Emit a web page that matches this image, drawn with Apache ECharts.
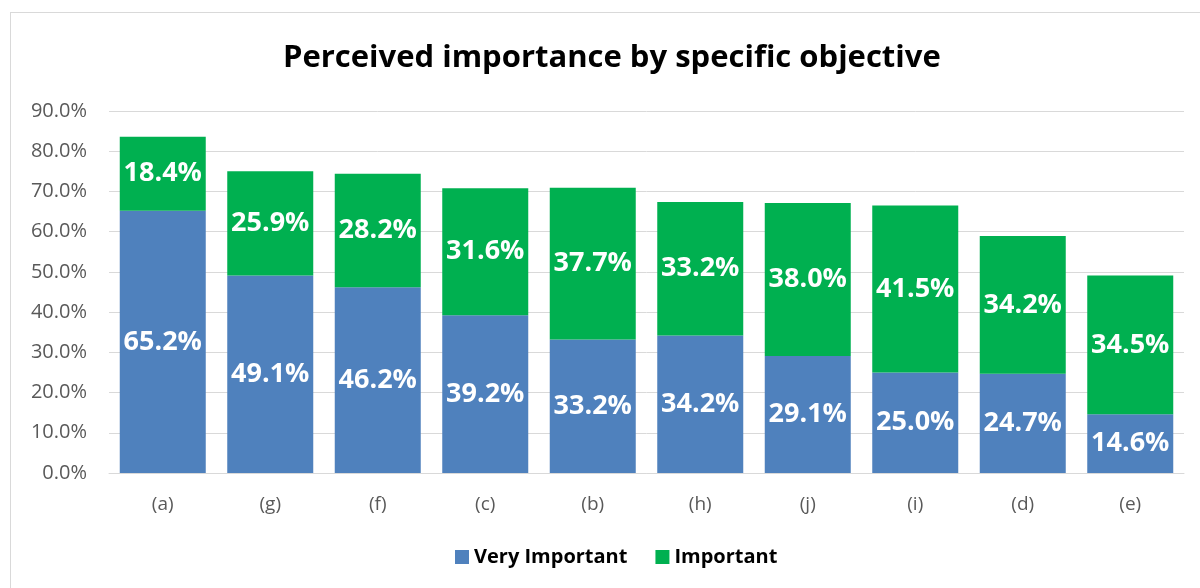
<!DOCTYPE html>
<html>
<head>
<meta charset="utf-8">
<script src="https://cdn.jsdelivr.net/npm/echarts@6/dist/echarts.min.js"></script>
<style>
    html, body { margin: 0; padding: 0; background: #fff; }
    #main { width: 1200px; height: 588px; }
    .frame { position: absolute; left: 10px; top: 12px; width: 1200px; height: 600px; border: 1.5px solid #d9d9d9; pointer-events: none; }
</style>
</head>
<body>
<div id="main"></div>
<div class="frame"></div>
<script>
const categories = ['(a)', '(g)', '(f)', '(c)', '(b)', '(h)', '(j)', '(i)', '(d)', '(e)'];
const veryImportant = [65.2, 49.1, 46.2, 39.2, 33.2, 34.2, 29.1, 25.0, 24.7, 14.6];
const important = [18.4, 25.9, 28.2, 31.6, 37.7, 33.2, 38.0, 41.5, 34.2, 34.5];

const chart = echarts.init(document.getElementById('main'));

const labelStyle = {
    show: true,
    position: 'inside',
    color: '#fff',
    fontFamily: 'Open Sans',
    fontWeight: 'bold',
    fontSize: 27,
    formatter: p => p.value.toFixed(1) + '%'
};

const option = {
    animation: false,
    title: {
        text: 'Perceived importance by specific objective',
        left: 278,
        top: 38,
        textStyle: { fontFamily: 'Open Sans', fontWeight: 'bold', fontSize: 31, color: '#000' }
    },
    legend: {
        bottom: 16,
        left: 450,
        itemWidth: 14,
        itemHeight: 14,
        itemGap: 28,
        icon: 'rect',
        textStyle: { fontFamily: 'Open Sans', fontWeight: 'bold', fontSize: 20, color: '#000' }
    },
    grid: { left: 109, right: 16, top: 111, bottom: 115 },
    xAxis: {
        type: 'category',
        data: categories,
        axisLine: { lineStyle: { color: '#d9d9d9' } },
        axisTick: { show: false },
        axisLabel: { color: '#595959', fontFamily: 'Open Sans', fontSize: 19, margin: 22 }
    },
    yAxis: {
        type: 'value',
        min: 0,
        max: 90,
        interval: 10,
        axisLine: { show: false },
        axisTick: { show: false },
        splitLine: { lineStyle: { color: '#d9d9d9', width: 1 } },
        axisLabel: {
            color: '#595959', fontFamily: 'Open Sans', fontSize: 20, margin: 22,
            formatter: v => v.toFixed(1) + '%'
        }
    },
    series: [
        {
            name: 'Very Important',
            type: 'bar',
            stack: 'total',
            barWidth: '80%',
            data: veryImportant,
            itemStyle: { color: '#4f81bd' },
            label: labelStyle
        },
        {
            name: 'Important',
            type: 'bar',
            stack: 'total',
            data: important,
            itemStyle: { color: '#00b050' },
            label: labelStyle
        }
    ]
};

chart.setOption(option);
</script>
</body>
</html>
